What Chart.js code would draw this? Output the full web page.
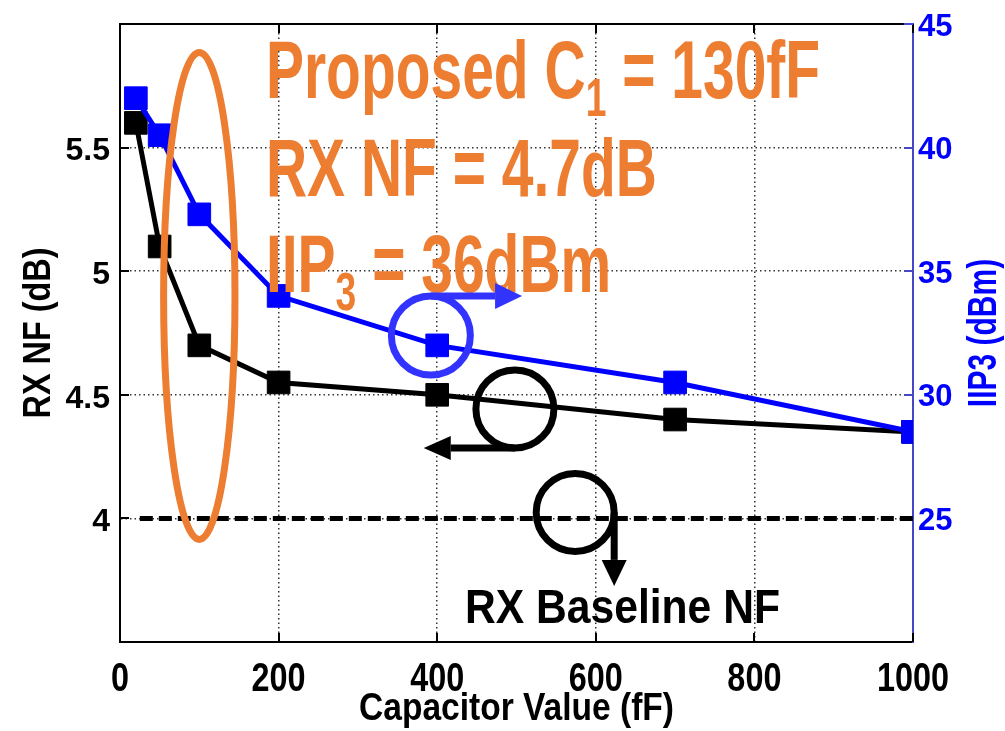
<!DOCTYPE html>
<html>
<head>
<meta charset="utf-8">
<script src="https://cdn.jsdelivr.net/npm/chart.js@4.4.1/dist/chart.umd.min.js"></script>
<style>
  html, body { margin: 0; padding: 0; background: #fff; }
  #wrap { width: 1005px; height: 731px; position: relative; }
</style>
</head>
<body>
<div id="wrap"><canvas id="nfChart"></canvas></div>
<script>
// values
const capValues = [20, 50, 100, 200, 400, 700, 1000];      // fF
const rxNF = [5.6, 5.1, 4.7, 4.55, 4.5, 4.4, 4.35];       // dB (left axis)
const iip3 = [42, 40.5, 37.3, 34, 32, 30.5, 28.5];        // dBm (right axis)
const baselineCap = [25, 1000];
const baselineNF = [4, 4];
const nfTickLabels = [4, 4.5, 5, 5.5];
const iipTickLabels = [25, 30, 35, 40, 45];

const FONT = '"Liberation Sans", Arial, sans-serif';
const ORANGE = '#ED7D31';
const BLUE = '#0000ff';
const AXIS_BLUE = '#4646c8';

const toXY = (xs, ys) => xs.map((x, i) => ({ x, y: ys[i] }));

// bold text made of parts (for subscripts), squeezed horizontally by s
function measureParts(ctx, parts) {
  let w = 0;
  parts.forEach(p => { ctx.font = `bold ${p.size}px ${FONT}`; w += ctx.measureText(p.t).width; });
  return w;
}
function drawParts(ctx, parts, x, y, s, color, align) {
  const w = measureParts(ctx, parts) * s;
  ctx.save();
  ctx.translate(align === 'center' ? x - w / 2 : x, y);
  ctx.scale(s, 1);
  ctx.fillStyle = color;
  ctx.textAlign = 'left';
  ctx.textBaseline = 'alphabetic';
  let cx = 0;
  parts.forEach(p => {
    ctx.font = `bold ${p.size}px ${FONT}`;
    ctx.fillText(p.t, cx, p.dy || 0);
    cx += ctx.measureText(p.t).width;
  });
  ctx.restore();
}
function arrow(ctx, x1, y1, x2, y2, head, half, color, lw) {
  const a = Math.atan2(y2 - y1, x2 - x1);
  const bx = x2 - head * Math.cos(a), by = y2 - head * Math.sin(a);
  ctx.strokeStyle = color; ctx.lineWidth = lw; ctx.lineCap = 'butt';
  ctx.beginPath(); ctx.moveTo(x1, y1); ctx.lineTo(bx, by); ctx.stroke();
  ctx.fillStyle = color;
  ctx.beginPath();
  ctx.moveTo(x2, y2);
  ctx.lineTo(bx + half * Math.sin(a), by - half * Math.cos(a));
  ctx.lineTo(bx - half * Math.sin(a), by + half * Math.cos(a));
  ctx.closePath(); ctx.fill();
}
function ring(ctx, cx, cy, r, color, lw) {
  ctx.strokeStyle = color; ctx.lineWidth = lw;
  ctx.beginPath(); ctx.arc(cx, cy, r, 0, Math.PI * 2); ctx.stroke();
}

const decorations = {
  id: 'decorations',
  beforeDatasetsDraw(chart) {
    const { ctx, chartArea: a, scales: { x, y, y2 } } = chart;
    const seg = (x1, y1, x2, y2_) => { ctx.beginPath(); ctx.moveTo(x1, y1); ctx.lineTo(x2, y2_); ctx.stroke(); };
    ctx.save();
    ctx.strokeStyle = '#000';
    ctx.lineWidth = 2;
    seg(a.left, a.top, a.right, a.top);
    x.ticks.forEach(t => {
      const p = Math.round(x.getPixelForValue(t.value));
      seg(p, a.bottom, p, a.bottom - 9);
      seg(p, a.top, p, a.top + 9);
    });
    y.ticks.forEach(t => {
      const p = Math.round(y.getPixelForValue(t.value));
      seg(a.left, p, a.left + 9, p);
    });
    ctx.strokeStyle = AXIS_BLUE;
    y2.ticks.forEach(t => {
      const p = Math.round(y2.getPixelForValue(t.value));
      seg(a.right, p, a.right - 9, p);
    });
    ctx.restore();
  },
  afterDatasetsDraw(chart) {
    const { ctx, scales: { x, y, y2 } } = chart;
    ctx.save();

    // orange ellipse round the 100 fF region
    const ex = x.getPixelForValue(100), ey = y.getPixelForValue(4.9);
    const erx = x.getPixelForValue(145) - ex, ery = ey - y.getPixelForValue(5.885);
    ctx.strokeStyle = ORANGE; ctx.lineWidth = 7;
    ctx.beginPath(); ctx.ellipse(ex, ey, erx, ery, 0, 0, Math.PI * 2); ctx.stroke();

    // orange statement
    const line1 = [{ t: 'Proposed C', size: 81 }, { t: '1', size: 53, dy: 18 }, { t: ' = 130fF', size: 81 }];
    const line2 = [{ t: 'RX NF = 4.7dB', size: 81 }];
    const line3 = [{ t: 'IIP', size: 81 }, { t: '3', size: 53, dy: 18 }, { t: ' = 36dBm', size: 81 }];
    const s = 391 / measureParts(ctx, line2);
    const tx = x.getPixelForValue(184);
    drawParts(ctx, line1, tx, y.getPixelForValue(5.70), s, ORANGE);
    drawParts(ctx, line2, tx, y.getPixelForValue(5.305), s, ORANGE);
    drawParts(ctx, line3, tx, y.getPixelForValue(4.915), s, ORANGE);

    // blue ring -> right axis
    const bcx = x.getPixelForValue(392), bcy = y2.getPixelForValue(32.4);
    ring(ctx, bcx, bcy, 39.5, '#3333ff', 7);
    arrow(ctx, bcx, bcy - 39.5, x.getPixelForValue(507), bcy - 39.5, 27, 13, '#3333ff', 7);

    // black ring -> left axis
    const k1x = x.getPixelForValue(498), k1y = y.getPixelForValue(4.443);
    ring(ctx, k1x, k1y, 39, '#000', 7);
    arrow(ctx, k1x, k1y + 39, x.getPixelForValue(383), k1y + 39, 27, 12, '#000', 7);

    // black ring -> baseline label
    const k2x = x.getPixelForValue(574), k2y = y.getPixelForValue(4.024);
    ring(ctx, k2x, k2y, 39, '#000', 7);
    arrow(ctx, k2x + 39, k2y, k2x + 39, y.getPixelForValue(3.727), 26, 12.5, '#000', 7);

    const lbl = [{ t: 'RX Baseline NF', size: 49 }];
    drawParts(ctx, lbl, x.getPixelForValue(435), y.getPixelForValue(3.577),
      315 / measureParts(ctx, lbl), '#000');
    ctx.restore();
  },
  afterDraw(chart) {
    const { ctx, chartArea: a, scales: { x } } = chart;
    ctx.save();
    // x tick labels (squeezed like the original figure)
    x.ticks.forEach(t => {
      drawParts(ctx, [{ t: String(t.value), size: 40 }], x.getPixelForValue(t.value), a.bottom + 49, 0.81, '#000', 'center');
    });
    // bottom title
    drawParts(ctx, [{ t: 'Capacitor Value (fF)', size: 39 }], (a.left + a.right) / 2, a.bottom + 78, 0.86, '#000', 'center');
    // left title (bottom to top)
    ctx.save();
    ctx.translate(a.left - 84, (a.top + a.bottom) / 2);
    ctx.rotate(-Math.PI / 2);
    drawParts(ctx, [{ t: 'RX NF (dB)', size: 39 }], 0, 14, 0.83, '#000', 'center');
    ctx.restore();
    // right title (bottom to top)
    ctx.save();
    ctx.translate(a.right + 69, (a.top + a.bottom) / 2);
    ctx.rotate(-Math.PI / 2);
    drawParts(ctx, [{ t: 'IIP3 (dBm)', size: 40 }], 0, 14, 0.75, BLUE, 'center');
    ctx.restore();
    ctx.restore();
  }
};

new Chart(document.getElementById('nfChart'), {
  type: 'line',
  data: {
    datasets: [
      {
        label: 'IIP3', data: toXY(capValues, iip3), yAxisID: 'y2', order: 1,
        borderColor: BLUE, backgroundColor: BLUE, borderWidth: 5, tension: 0,
        pointStyle: 'rect', pointRadius: 16, pointBorderWidth: 1,
        pointBackgroundColor: BLUE, pointBorderColor: BLUE
      },
      {
        label: 'RX NF', data: toXY(capValues, rxNF), yAxisID: 'y', order: 2,
        borderColor: '#000', backgroundColor: '#000', borderWidth: 5, tension: 0,
        pointStyle: 'rect', pointRadius: 16, pointBorderWidth: 1,
        pointBackgroundColor: '#000', pointBorderColor: '#000'
      },
      {
        label: 'Baseline', data: toXY(baselineCap, baselineNF), yAxisID: 'y', order: 3,
        borderColor: '#000', borderWidth: 5, borderDash: [13, 6], pointRadius: 0, tension: 0
      }
    ]
  },
  options: {
    responsive: true,
    maintainAspectRatio: false,
    animation: false,
    layout: { padding: { top: 24, left: 0, right: 0, bottom: 0 } },
    plugins: { legend: { display: false }, tooltip: { enabled: false } },
    scales: {
      x: {
        type: 'linear', min: 0, max: 1000,
        afterFit: s => { s.height = 89; },
        ticks: { stepSize: 200, display: false },
        grid: {
          drawTicks: false, lineWidth: 1.5,
          color: c => (c.tick && (c.tick.value === 0 || c.tick.value === 1000)) ? 'rgba(0,0,0,0)' : '#333'
        },
        border: { color: '#000', width: 2, dash: [1.5, 3] }
      },
      y: {
        type: 'linear', position: 'left', min: 3.5, max: 6,
        afterFit: s => { s.width = 120; s.paddingTop = 0; s.paddingBottom = 0; },
        ticks: {
          stepSize: 0.5, padding: 10, labelOffset: 4, color: '#000',
          font: { family: FONT, size: 32, weight: 'bold' },
          callback: v => nfTickLabels.includes(v) ? String(v) : null
        },
        grid: { drawTicks: false, lineWidth: 1.5, color: '#333' },
        border: { color: '#000', width: 2, dash: [1.5, 3] }
      },
      y2: {
        type: 'linear', position: 'right', min: 20, max: 45,
        afterFit: s => { s.width = 92; s.paddingTop = 0; s.paddingBottom = 0; },
        ticks: {
          stepSize: 5, padding: 5, labelOffset: 3, color: BLUE,
          font: { family: FONT, size: 31, weight: 'bold' },
          callback: v => iipTickLabels.includes(v) ? String(v) : null
        },
        grid: { drawOnChartArea: false, drawTicks: false },
        border: { color: AXIS_BLUE, width: 2 }
      }
    }
  },
  plugins: [decorations]
});
</script>
</body>
</html>
